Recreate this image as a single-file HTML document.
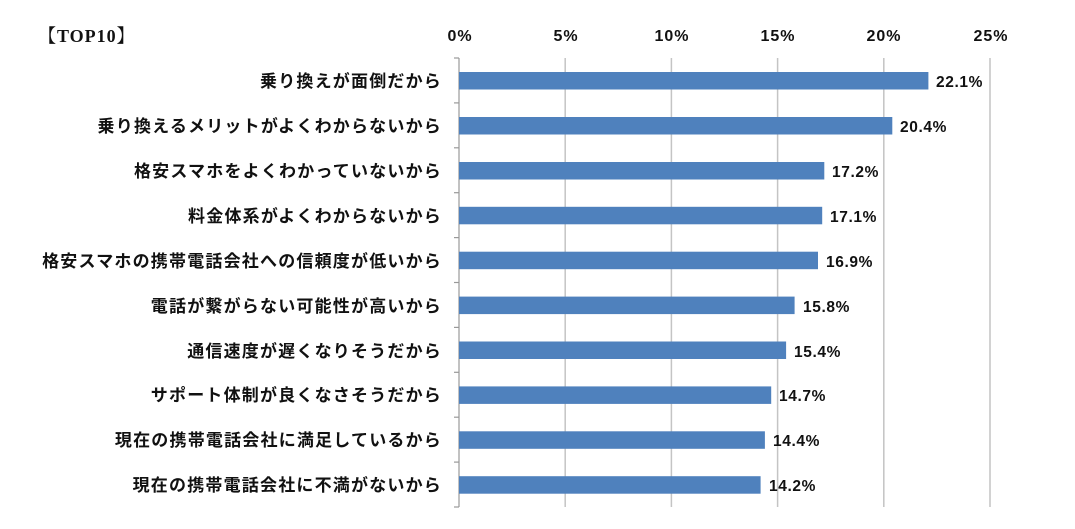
<!DOCTYPE html>
<html><head><meta charset="utf-8"><style>
body{margin:0;background:#fff;}
svg text{font-family:"Liberation Sans","Noto Sans CJK JP",sans-serif;font-weight:bold;fill:#111;}
</style></head><body>
<svg width="1075" height="524" xmlns="http://www.w3.org/2000/svg">
<text x="38" y="42" font-size="18" letter-spacing="1" style="font-family:'Liberation Serif','Noto Serif CJK SC',serif">【TOP10】</text>
<g stroke="#c4c4c4" stroke-width="1.5">
<line x1="565.2" y1="58" x2="565.2" y2="507"/>
<line x1="671.4" y1="58" x2="671.4" y2="507"/>
<line x1="777.6" y1="58" x2="777.6" y2="507"/>
<line x1="883.8" y1="58" x2="883.8" y2="507"/>
<line x1="990" y1="58" x2="990" y2="507"/>
</g>
<g stroke="#999" stroke-width="1.2">
<line x1="459" y1="58" x2="459" y2="507"/>
<line x1="454" y1="58" x2="459" y2="58"/><line x1="454" y1="102.9" x2="459" y2="102.9"/><line x1="454" y1="147.8" x2="459" y2="147.8"/><line x1="454" y1="192.7" x2="459" y2="192.7"/><line x1="454" y1="237.6" x2="459" y2="237.6"/><line x1="454" y1="282.5" x2="459" y2="282.5"/><line x1="454" y1="327.4" x2="459" y2="327.4"/><line x1="454" y1="372.3" x2="459" y2="372.3"/><line x1="454" y1="417.2" x2="459" y2="417.2"/><line x1="454" y1="462.1" x2="459" y2="462.1"/><line x1="454" y1="507" x2="459" y2="507"/>
</g>
<g font-size="16" letter-spacing="1" text-anchor="middle">
<text x="460" y="41">0%</text><text x="566" y="41">5%</text><text x="672" y="41">10%</text><text x="778" y="41">15%</text><text x="884" y="41">20%</text><text x="991" y="41">25%</text>
</g>
<g fill="#4f81bd">
<rect x="459" y="72" width="469.4" height="17.5"/>
<rect x="459" y="117" width="433.3" height="17.5"/>
<rect x="459" y="162" width="365.3" height="17.5"/>
<rect x="459" y="206.8" width="363.2" height="17.5"/>
<rect x="459" y="251.7" width="359" height="17.5"/>
<rect x="459" y="296.6" width="335.6" height="17.5"/>
<rect x="459" y="341.5" width="327.1" height="17.5"/>
<rect x="459" y="386.4" width="312.2" height="17.5"/>
<rect x="459" y="431.3" width="305.9" height="17.5"/>
<rect x="459" y="476.2" width="301.6" height="17.5"/>
</g>
<g font-size="15.5" letter-spacing="0.6">
<text x="936" y="87">22.1%</text>
<text x="900" y="132">20.4%</text>
<text x="832" y="177">17.2%</text>
<text x="830" y="222">17.1%</text>
<text x="826" y="267">16.9%</text>
<text x="803" y="312">15.8%</text>
<text x="794" y="357">15.4%</text>
<text x="779" y="401">14.7%</text>
<text x="773" y="446">14.4%</text>
<text x="769" y="491">14.2%</text>
</g>
<g font-size="17" letter-spacing="1.2" text-anchor="end">
<text x="442" y="87">乗り換えが面倒だから</text>
<text x="442" y="132">乗り換えるメリットがよくわからないから</text>
<text x="442" y="177">格安スマホをよくわかっていないから</text>
<text x="442" y="222">料金体系がよくわからないから</text>
<text x="442" y="267">格安スマホの携帯電話会社への信頼度が低いから</text>
<text x="442" y="312">電話が繋がらない可能性が高いから</text>
<text x="442" y="357">通信速度が遅くなりそうだから</text>
<text x="442" y="401">サポート体制が良くなさそうだから</text>
<text x="442" y="446">現在の携帯電話会社に満足しているから</text>
<text x="442" y="491">現在の携帯電話会社に不満がないから</text>
</g>
</svg>
</body></html>
